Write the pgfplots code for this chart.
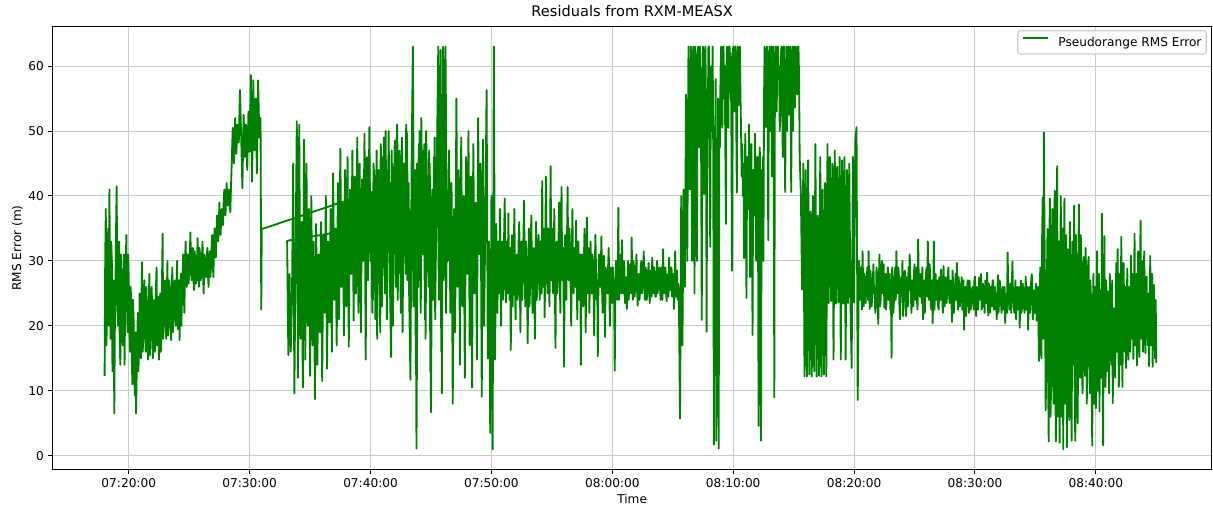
\documentclass[border=0pt]{standalone}
\usepackage{fontspec}
\setmainfont{DejaVu Sans}
\usepackage{pgfplots}
\pgfplotsset{compat=1.18}
\definecolor{mplgreen}{HTML}{008000}
\definecolor{gridgray}{HTML}{C9C9C9}
\definecolor{legendframe}{HTML}{CCCCCC}

\begin{document}
\begin{tikzpicture}
\begin{axis}[
  name=ax,
  scale only axis,
  width=954.1pt, height=364.5pt,
  xmin=136.9, xmax=1095.9,
  ymin=-2.1, ymax=66.1,
  xtick={200,300,...,1000},
  xticklabels={07:20:00,07:30:00,07:40:00,07:50:00,08:00:00,08:10:00,08:20:00,08:30:00,08:40:00},
  ytick={0,10,...,60},
  /pgf/number format/assume math mode=true,
  tick label style={font=\fontsize{10}{12}\selectfont, inner sep=0pt},
  xticklabel style={anchor=base, yshift=-11.1pt},
  yticklabel style={anchor=east, xshift=-3.5pt},
  tick align=outside, tick pos=left,
  major tick length=3.5pt,
  every tick/.style={black, line width=0.8pt},
  axis line style={line width=0.8pt, black},
  grid=major,
  major grid style={line width=0.8pt, gridgray},
  xlabel={Time},
  every axis x label/.style={at={(rel axis cs:0.5,0)}, anchor=base, yshift=-28.3pt, inner sep=0pt, font=\fontsize{10}{12}\selectfont},
  ylabel={RMS Error (m)},
  every axis y label/.style={at={(rel axis cs:0,0.5)}, xshift=-25.8pt, rotate=90, anchor=base, inner sep=0pt, font=\fontsize{10}{12}\selectfont},
  legend style={at={(rel axis cs:1,1)}, anchor=north east, xshift=-4pt, yshift=-3pt,
    draw=legendframe, line width=1pt, fill=white, fill opacity=0.8, text opacity=1,
    rounded corners=2pt, inner xsep=4pt, inner ysep=5pt,
    font=\fontsize{10}{12}\selectfont, nodes={inner sep=0pt}, /tikz/column sep=8pt},
  legend cell align=left,
  legend image code/.code={\draw[#1, line width=1.5pt] (0pt,0.35em) -- (20pt,0.35em);},
]
% x is time in tenths of a minute after 07:00:00
\addplot[color=mplgreen, line width=1.5pt, line join=round, no markers] coordinates {
(180,12.3)(180.5,30)(181,38)(181.5,17)(182,22)(182.5,29)(183,35)(183.5,20)(184,41)(184.5,26)
(185,18)(185.5,33)(186,30)(186.5,13)(187,15)(187.5,27)(188,6.5)(188.5,20)(189,26)(189.5,35)
(190,41.5)(190.5,24)(191,20)(191.5,29)(192,33)(192.5,18)(193,14)(193.5,31)(194,28)(194.5,21)
(195,17)(195.5,26)(196,31)(196.5,14)(197,23)(197.5,29)(198,34)(198.5,24)(199,19)(199.5,31)
(200,27)(200.5,20)(201,16)(201.5,26)(202,24)(202.5,15)(203,11)(203.5,24)(204,21)(204.5,14)
(205,9.3)(205.5,19)(206,6.5)(206.5,12)(207,18)(207.5,22)(208,13)(208.5,17)(209,25)(209.5,19)
(210,15)(210.5,24)(211,29.8)(211.5,16)(212,18)(212.5,23)(213,27)(213.5,20)(214,16)(214.5,26)
(215,23)(215.5,17)(216,14.8)(216.5,22)(217,28)(217.5,15.5)(218,19)(218.5,24)(219,26)(219.5,18)
(220,15)(220.5,22)(221,24)(221.5,16)(222,17)(222.5,26)(223,29)(223.5,17)(224,21)(224.5,24.5)
(225,14.8)(225.5,20)(226,25)(226.5,16)(227,19)(227.5,27)(228,34.2)(228.5,18)(229,22)(229.5,25)
(230,27)(230.5,20)(231,18)(231.5,25)(232,30)(232.5,18.5)(233,21)(233.5,27)(234,26)(234.5,20)
(235,17.8)(235.5,24)(236,29)(236.5,19)(237,22)(237.5,25)(238,27)(238.5,21)(239,20)(239.5,26.5)
(240,30)(240.5,19.5)(241,23)(241.5,27)(242,17.8)(242.5,23)(243,28)(243.5,20)(244,24)(244.5,28)
(245,31)(245.5,25)(246,22)(246.5,28.5)(247,33)(247.5,29)(248,26)(248.5,29)(249,31)(249.5,26.5)
(250,28)(250.5,31)(251,34.4)(251.5,29)(252,27)(252.5,30)(253,32)(253.5,27)(254,25.5)(254.5,31.5)
(255,30)(255.5,26.5)(256,27)(256.5,30.5)(257,33.5)(257.5,28.5)(258,26)(258.5,32)(259,31)(259.5,27)
(260,28)(260.5,30)(261,33)(261.5,27.5)(262,25)(262.5,31)(263,30)(263.5,28)(264,27.5)(264.5,30.5)
(265,32)(265.5,28)(266,26)(266.5,30)(267,31.5)(267.5,27.5)(268,29)(268.5,32)(269,34)(269.5,29.5)
(270,27.5)(270.5,32.5)(271,35)(271.5,31)(272,30.5)(272.5,34)(273,37)(273.5,35.5)(274,33)(274.5,36)
(275,39)(275.5,35)(276,34)(276.5,37)(277,38)(277.5,36.5)(278,35.5)(278.5,39)(279,41)(279.5,37.5)
(280,37)(280.5,40)(281,42)(281.5,39)(282,38.5)(282.5,40.5)(283,41)(283.5,39)(284,37.5)(284.5,41)
(285,44)(286,50.5)(287,45)(288,52)(289,46.5)
(290,51)(291,48.2)(292,56.3)(293,49)(294,41.2)(295,52.5)(296,46)(297,51)(298,44)(299,53)
(300,46.8)(301,58.6)(302,42.2)(303,57.8)(304,47)(305,55)(306,43.5)(307,57.8)(308,49)(309,52)
(309.6,22.5)(310,34.9)
(401,40.6)(402,24)(403,44)(404,21)(405,47)(406,28)(407,42)(408,19)(409,46)
(410,30)(411,49)(412,25)(413,44)(414,33)(415,50)(416,27)(417,15.2)(418,45)(419,30)
(420,48.5)(421,26)(422,51)(423,35)(424,47)(425,22)(426,49)(427,31)(428,45)(429,28)
(430,50)(431,36)(432,24)(433,11.7)(434,45)(435,63)(436,30)(437,44)(438,1.1)(439,37)
(440,48)(441,29)(442,52)(443,33)(444,47)(445,21)(446,50)(447,38)(448,26)(449,45)
(450,6.7)(451,41)(452,24)(453,49)(454,30)(455,43)(456,63)(457,28)(458,62.5)(459,9.6)
(460,63)(461,35)(462,63)(463,37.3)
(331,33.1)(332,15.5)(333,28)(334,16)(335,24)(336,45)(337,9.6)(338,31)(339,51.5)
(340,12)(341,51)(342,18)(343,36)(344,10.5)(345,48.7)(346,14.8)(347,45)(348,20)(349,38)
(350,12.3)(351,40)(352,17)(353,33)(354,8.7)(355,35.7)(356,14)(357,31)(358,19)(359,36)
(360,11.5)(361,34)(362,22)(363,40)(364,13.4)(365,33)(366,20.5)(367,38)(368,16)(369,43.5)
(370,24)(371,35)(372,17)(373,42)(374,21)(375,47.3)(376,26)(377,39)(378,18.5)(379,44)
(380,23)(381,46)(382,16.8)(383,41)(384,28)(385,47)(386,20.8)(387,43)(388,25)(389,49)
(390,22)(391,45)(392,19)(393,42.6)(394,30)(395,49.6)(396,14.8)(397,46)(398,27)(399,50.6)
(400,30)
(400.5,36)(401.5,22)(402.5,45)(403.5,27)(404.5,39)(405.5,18)(406.5,44)(407.5,31)(408.5,48)(409.5,23)
(410.5,41)(411.5,29)(412.5,50)(413.5,21)(414.5,43)(415.5,34)(416.5,26)(417.5,47)(418.5,20)(419.5,42)
(420.5,32)(421.5,49)(422.5,24)(423.5,40)(424.5,28)(425.5,46)(426.5,19)(427.5,44)(428.5,35)(429.5,51)
(430.5,27)(431.5,42)(432.5,20)(433.5,37)(434.5,45)(435.5,23)(436.5,40)(437.5,14)(438.5,45)(439.5,26)
(440.5,50)(441.5,22)(442.5,43)(443.5,31)(444.5,48)(445.5,18)(446.5,41)(447.5,29)(448.5,47)(449.5,13)
(450.5,38)(451.5,25)(452.5,46)(453.5,21)(454.5,40)(455.5,55)(456.5,24)(457.5,60)(458.5,16)(459.5,44)
(460.5,27)(461.5,58)(462.5,22)(463.5,41)
(464,30)(465,47)(466,22)(467,42)(468,8)(469,38)
(470,19)(471,55)(472,26)(473,44)(474,14)(475,49)(476,23)(477,40)(478,12)(479,46)
(480,28)(481,50)(482,17)(483,43)(484,10.5)(485,48)(486,25)(487,39)(488,14.8)(489,52)
(490,31)(491,45)(492,9.1)(493,48.7)(494,20)(495,37)(496,56.3)(497,15)(498,33)(499,3.5)
(500,40)(501,1)(502,63)(503,14.8)
(504,35.7)(504.5,27)(505,22)(505.5,33)(506,31)(506.5,25)(507,38)(507.5,29)(508,20)(508.5,31)(509,33)(509.5,24)
(510,26)(510.5,34)(511,39.6)(511.5,28)(512,23.6)(512.5,33)(513,30)(513.5,25)(514,37.3)(514.5,29)
(515,24)(515.5,32)(516,16.3)(516.5,26)(517,34)(517.5,23)(518,27)(518.5,32)(519,38)(519.5,26)
(520,21)(520.5,30)(521,31)(521.5,24)(522,25)(522.5,33)(523,36)(523.5,27)(524,19)(524.5,31)
(525,33)(525.5,24)(526,28)(526.5,34)(527,39.3)(527.5,29)(528,23)(528.5,33)(529,30)(529.5,25)
(530,17.3)(530.5,29)(531,35)(531.5,23)(532,26)(532.5,32)(533,37)(533.5,28)(534,22)(534.5,30)
(535,32)(535.5,25)(536,18)(536.5,31)(537,36)(537.5,24)(538,27)(538.5,32)(539,34)(539.5,28)
(540,24)(540.5,33)(541,30)(541.5,25)(542,42.3)(542.5,31)(543,26)(543.5,35)(544,21.3)(544.5,28)
(545,43)(545.5,34)(546,28)(546.5,25)(547,35)(547.5,30)(548,23)(548.5,33)(549,44.6)(549.5,27)
(550,31)(550.5,35)(551,25)(551.5,29)(552,38)(552.5,26)(553,16.6)(553.5,31)(554,33)(554.5,25)
(555,27)(555.5,33)(556,39)(556.5,29)(557,22)(557.5,34)(558,41.4)(558.5,27)(559,29)(559.5,32)
(560,13.7)(560.5,25)(561,34)(561.5,29)(562,24)(562.5,33)(563,41.4)(563.5,30)(564,27)(564.5,35)
(565,32)(565.5,26)(566,20)(566.5,31)(567,38)(567.5,28)(568,25)(568.5,32)(569,30)(569.5,26)
(570,36.2)(570.5,30)(571,21)(571.5,28)(572,33)(572.5,24)(573,26)(573.5,31)(574,14)(574.5,27)
(575,31)(575.5,25)(576,23)(576.5,30)(577,35)(577.5,27)(578,19)(578.5,31)(579,36.7)(579.5,25)
(580,28)(580.5,32)(581,22)(581.5,27)(582,33)(582.5,29)(583,25)(583.5,31)(584,30)(584.5,25)
(585,18.5)(585.5,28)(586,34)(586.5,29)(587,24)(587.5,27)(588,15.3)(588.5,26)(589,31)(589.5,28)
(590,26)(590.5,29)(591,33.8)(591.5,26)(592,22)(592.5,28)(593,30.8)(593.5,25)(594,18.3)(594.5,29)
(595,28)(595.5,27)(596,25)(596.5,29)(597,32)(597.5,26)(598,20)(598.5,28)(599,29)(599.5,26)
(600,23.5)(600.5,29)(601,27)(601.5,25)(602,13.1)(602.5,24)
(603,30)(603.5,26)(604,24)(604.5,29)(605,38.2)(605.5,24)(606,26)(606.5,28.5)(607,31)(607.5,25)
(608,33.2)(608.5,27)(609,25)(609.5,30)(610,29)(610.5,23.5)(611,24.6)(611.5,27.5)(612,22.6)(612.5,26)
(613,30)(613.5,24)(614,26)(614.5,29.5)(615,28.5)(615.5,25)(616,33.6)(616.5,27)(617,24)(617.5,30)
(618,29)(618.5,24.5)(619,26.5)(619.5,28)(620,31)(620.5,25.5)(621,23.1)(621.5,27.5)(622,28)(622.5,24)
(623,25.6)(623.5,29)(624,30)(624.5,25)(625,26)(625.5,28)(626,31.5)(626.5,26)(627,24)(627.5,29)
(628,28.5)(628.5,24)(629,25.6)(629.5,27.5)(630,29.7)(630.5,25)(631,23.5)(631.5,28.5)(632,27)(632.5,24.5)
(633,30.5)(633.5,26.5)(634,25)(634.5,29)(635,28)(635.5,24.5)(636,24.5)(636.5,27.5)(637,30)(637.5,25)
(638,26.5)(638.5,28)(639,29)(639.5,25.5)(640,24)(640.5,29)(641,27.5)(641.5,24)(642,31.8)(642.5,27)
(643,25)(643.5,28.5)(644,29)(644.5,25)(645,23.8)(645.5,27.5)(646,28)(646.5,24.5)(647,30.5)(647.5,27)
(648,25.5)(648.5,28.5)(649,29)(649.5,24.5)(650,26)(650.5,28)(651,22.6)(651.5,26)(652,31.5)(652.5,24.5)
(653,27)(653.5,28.5)(654,24)(654.5,26.5)(655,25.6)
(656,5.7)(657,40)(658,17)(659,41)(660,26)(661,55.6)(662,30)
(663,63)(663.5,52)(664,41)(664.5,58)(665,63)(665.5,47)(666,30)(666.5,61)(667,63)(667.5,50)
(668,25)(668.5,63)(669,62)(669.5,44)(670,30)(670.5,60)(671,63)(671.5,55)(672,47.5)(672.5,63)
(673,58)(673.5,45)(674,20.9)(674.5,57)(675,63)(675.5,49)(676,40.3)(676.5,62)(677,63)(677.5,54)
(678,19.1)(678.5,48)(679,52)(679.5,63)(680,63)(680.5,45)(681,32.2)(681.5,58)(682,60)(682.5,50)
(683,63)(683.5,46)(684,1.7)(684.5,30)(685,45)(685.5,58)(686,2.3)(686.5,40)(687,35)(687.5,55)
(688,1.1)(688.5,50)(689,47.5)(689.5,59)(690,63)(690.5,52)(691,50.5)(691.5,63)(692,63)(692.5,55)
(693,60)(693.5,47)(694,35.7)(694.5,60)(695,63)(695.5,54)(696,50.5)(696.5,63)(697,63)(697.5,56)
(698,62)(698.5,50)(699,28.5)(699.5,60)(700,63)(700.5,57)(701,53)(701.5,63)(702,63)(702.5,52)
(703,40.5)(703.5,60)(704,63)(704.5,54)(705,58)(705.5,63)(706,55.6)(706.5,50)(707,43)(707.5,48)
(708,40)(708.5,45)(709,30.4)(709.5,42)(710,49.6)(710.5,36)(711,24.3)(711.5,46)(712,45)(712.5,38)
(713,51)(713.5,44)(714,27.5)(714.5,40)(715,48)(715.5,35)(716,18.6)(716.5,44)(717,42)(717.5,37)
(718,49.6)(718.5,41)(719,30)(719.5,45)(720,46)(720.5,38)(721,4.6)(721.5,43)(722,47.5)(722.5,36)
(723,2.3)(723.5,44)(724,39)(724.5,46)(725,30)(725.5,55)(726,63)(726.5,58)(727,50.6)(727.5,62)
(728,63)(728.5,52)(729,33.2)(729.5,58)(730,63)(730.5,50)(731,54.6)(731.5,63)(732,43)(732.5,57)
(733,63)(733.5,49)(734,9)(734.5,58)(735,63)(735.5,55)(736,53)(736.5,63)(737,63)(737.5,58)
(738,60)(738.5,50)(739,54)(739.5,62)(740,63)(740.5,55)(741,46)(741.5,63)(742,63)(742.5,52)
(743,40.6)(743.5,58)(744,63)(744.5,50)(745,61)(745.5,63)(746,52.5)(746.5,60)(747,63)(747.5,55)
(748,40.6)(748.5,62)(749,63)(749.5,50)(750,58)(750.5,63)(751,53.6)(751.5,60)(752,63)(752.5,56)
(753,55.6)(753.5,63)(754,63)(754.5,58)
(755,46)(756,40)(757,25.6)(758,45)(759,12.2)
(760,44)(761,12.2)(762,45.5)(763,12.5)(764,37.6)(765,12.2)(766,40)(767,13)(768,48)(769,12.2)
(770,37)(771,12.3)(772,46)(773,12.2)(774,41)(775,12.5)(776,42)(777,12.2)(778,48)(779,23.5)
(780,46)(781,23.8)(782,45)(783,14.8)(784,47)(785,23.4)(786,44.5)(787,23.6)(788,46)(789,14.8)
(790,45.5)(791,23.4)(792,46)(793,14.8)(794,44)(795,23.5)(796,45)(797,23.4)(798,13.5)(799,46)
(800,23.6)(801,48.4)(802,50.6)(803,8.6)
(804,30)(804.5,25)(805,24)(805.5,29)(806,28)(806.5,22.5)(807,31.5)(807.5,26)(808,23)(808.5,28)
(809,27)(809.5,23.5)(810,25.6)(810.5,27.5)(811,29)(811.5,24)(812,31.5)(812.5,26)(813,22.6)(813.5,28.5)
(814,27)(814.5,23)(815,24.5)(815.5,27)(816,29.5)(816.5,25)(817,26)(817.5,22)(818,23)(818.5,29)
(819,28)(819.5,24.5)(820,20.3)(820.5,27)(821,31)(821.5,23)(822,24)(822.5,28)(823,30)(823.5,25)
(824,25.5)(824.5,29.5)(825,22.8)(825.5,26)(826,28)(826.5,22.5)(827,24.5)(827.5,27.5)(828,29)(828.5,24)
(829,26)(829.5,28)(830,22.5)(830.5,25)(831,15.1)(831.5,29)(832,27)(832.5,22)(833,24)(833.5,26.5)
(834,29)(834.5,24)(835,31.5)(835.5,27)(836,25)(836.5,29)(837,28)(837.5,23)(838,21)(838.5,26)
(839,27.5)(839.5,24.5)(840,30)(840.5,21.5)(841,24)(841.5,28)(842,28.5)(842.5,25)(843,21.5)(843.5,27.5)
(844,26)(844.5,23)(845,29)(845.5,25.5)(846,31)(846.5,28)(847,24.5)(847.5,22)(848,27)(848.5,26.5)
(849,23)(849.5,28)(850,29.5)(850.5,24)(851,26)(851.5,29)(852,24)(852.5,22.5)(853,33.3)(853.5,27)
(854,25)(854.5,24.5)(855,28)(855.5,26)(856,23.5)(856.5,29)(857,21)(857.5,25.5)(858,27)(858.5,22)
(859,25)(859.5,28)(860,29)(860.5,24.5)(861,33)(861.5,26)(862,24)(862.5,29.5)(863,27.5)(863.5,23)
(864,22.5)(864.5,27)(865,20.4)(865.5,25.5)(866,33)(866.5,22.5)(867,26)(867.5,28)(868,24)(868.5,25.5)
(869,27)(869.5,23)(870,22.5)(870.5,27.5)(871,26)(871.5,24)(872,28.7)(872.5,26)(873,24)(873.5,22)
(874,29.2)(874.5,25)(875,23)(875.5,27.5)(876,26.5)(876.5,23.5)(877,25)(877.5,28)(878,29)(878.5,25)
(879,23.5)(879.5,26.5)(880,27)(880.5,24)(881,20.6)(881.5,28.5)(882,26)(882.5,22)(883,24)(883.5,26)
(884,28)(884.5,24)(885,29.7)(885.5,25)(886,22.5)(886.5,27.5)(887,26)(887.5,23)(888,24.5)(888.5,26)
(889,27.5)(889.5,22.5)(890,23)(890.5,27)(891,19.4)(891.5,24.5)(892,26)(892.5,21.5)(893,23.5)(893.5,26)
(894,27)(894.5,24)(895,22)(895.5,27)(896,25)(896.5,22.5)(897,23.5)(897.5,25.5)(898,26)(898.5,24)
(899,22.5)(899.5,27)(900,27.6)(900.5,23.5)(901,21.5)(901.5,26)(902,25)(902.5,22.5)(903,24)(903.5,27.5)
(904,26.5)(904.5,24)(905,28)(905.5,22.5)(906,23)(906.5,26.5)(907,25.5)(907.5,24)(908,22)(908.5,27)
(909,26)(909.5,23.5)(910,28.2)(910.5,25)(911,21.6)(911.5,26.5)(912,24.5)(912.5,22)(913,26)(913.5,24.5)
(914,23)(914.5,27)(915,27)(915.5,22.5)(916,24)(916.5,26)(917,22.5)(917.5,24.5)(918,21)(918.5,25)
(919,27.8)(919.5,22)(920,24)(920.5,27)(921,25.5)(921.5,23.5)(922,22)(922.5,25.5)(923,26)(923.5,22.5)
(924,23.5)(924.5,26)(925,20.4)(925.5,24.5)(926,25)(926.5,22)(927,31.3)(927.5,26)(928,24)(928.5,22.5)
(929,26.5)(929.5,25)(930,22)(930.5,26.5)(931,29.9)(931.5,24)(932,23.5)(932.5,22)(933,25)(933.5,27)
(934,21)(934.5,24)(935,26)(935.5,22.5)(936,24)(936.5,26)(937,19.7)(937.5,24.5)(938,27)(938.5,22)
(939,23)(939.5,26.5)(940,25.5)(940.5,23)(941,22)(941.5,25)(942,27.6)(942.5,22.5)(943,23.5)(943.5,26)
(944,19.4)(944.5,24.5)(945,26)(945.5,22)(946,24)(946.5,27)(947,28)(947.5,23.5)(948,21)(948.5,25.5)
(949,25)(949.5,22)(950,23)(950.5,26.5)(951,20.8)(951.5,24)(952,26)
(953,14.6)(953.5,24)(954,29)(954.5,20)(955,15)(955.5,33)(956,39.8)(956.5,18)(957,49.8)(957.5,35)
(958,24)(958.5,7)(959,14.8)(959.5,27)(960,34.9)(960.5,12)(961,2.2)(961.5,33)(962,39.6)(962.5,6)
(963,11)(963.5,30)(964,38)(964.5,16)(965,8)(965.5,35)(966,40.8)(966.5,10)(967,2.2)(967.5,36)
(968,44.6)(968.5,6)(969,12)(969.5,33)(970,2)(970.5,28)(971,40)(971.5,6)(972,18)(972.5,35)
(973,1)(973.5,25)(974,39.6)(974.5,8)(975,9)(975.5,34)(976,1.3)(976.5,15)(977,31.8)(977.5,8)
(978,5.5)(978.5,36)(979,22)(979.5,10)(980,2.3)(980.5,33)(981,30)(981.5,14)(982,38.5)(982.5,8)
(983,2.3)(983.5,34)(984,25)(984.5,12)(985,5)(985.5,30)(986,38.7)(986.5,16)(987,12)(987.5,34)
(988,30)(988.5,14)(989,9.6)(989.5,27)(990,30.6)(990.5,18)(991,12.3)(991.5,32)(992,27.5)(992.5,8)
(993,20)(993.5,29)(994,30.6)(994.5,15)(995,9.6)(995.5,27)(996,24)(996.5,11)(997,1.6)(997.5,22)
(998,28)(998.5,8)(999,15)(999.5,26)(1000,7.3)(1000.5,20)(1001,31.5)(1001.5,10)(1002,18)(1002.5,28)
(1003,6.8)(1003.5,22)(1004,25.5)(1004.5,12)(1005,37.3)(1005.5,15)(1006,1.6)(1006.5,24)(1007,33.8)(1007.5,19)
(1008,10.6)(1008.5,27)(1009,24)(1009.5,13)(1010,25.3)(1010.5,20)(1011,9.6)(1011.5,28)(1012,25.3)(1012.5,16)
(1013,14)(1013.5,27)(1014,8.1)(1014.5,20)(1015,22.7)(1015.5,15)(1016,12)(1016.5,26)(1017,29.7)(1017.5,16)
(1018,31.8)(1018.5,22)(1019,10.6)(1019.5,28)(1020,26)(1020.5,14)(1021,33.7)(1021.5,22)(1022,10.6)(1022.5,27)
(1023,29.7)(1023.5,18)(1024,16)(1024.5,26)(1025,13.5)(1025.5,22)(1026,28.8)(1026.5,18)(1027,14.8)(1027.5,26)
(1028,22)(1028.5,16)(1029,30.8)(1029.5,21)(1030,18)(1030.5,28)(1031,14.9)(1031.5,24)(1032,34.2)(1032.5,17)
(1033,20)(1033.5,28)(1034,13.9)(1034.5,24)(1035,31.5)(1035.5,20)(1036,15.2)(1036.5,29)(1037,36.2)(1037.5,18)
(1038,22)(1038.5,30)(1039,16)(1039.5,24)(1040,31.5)(1040.5,19)(1041,15.8)(1041.5,27)(1042,27.6)(1042.5,20)
(1043,17)(1043.5,25)(1044,13.8)(1044.5,22)(1045,30.8)(1045.5,17)(1046,21)(1046.5,28)(1047,13.7)(1047.5,24)
(1048,26.3)(1048.5,19)(1049,15)(1049.5,24)(1050,14.3)
};
\addlegendentry{Pseudorange RMS Error}
\end{axis}
\node[anchor=base, inner sep=0pt, font=\fontsize{12}{14.4}\selectfont] at ([yshift=8.5pt]ax.north) {Residuals from RXM-MEASX};
\pgfresetboundingbox
\useasboundingbox (-43.2pt,-30.1pt) rectangle (955.1pt,386.3pt);
\end{tikzpicture}
\end{document}
